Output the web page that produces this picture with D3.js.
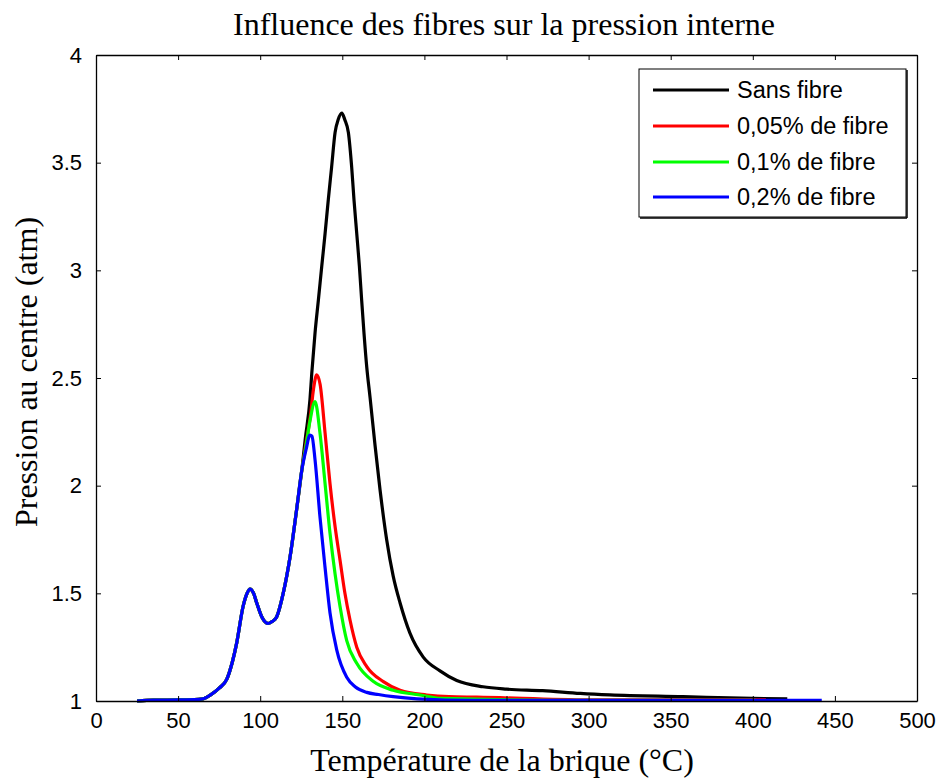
<!DOCTYPE html>
<html><head><meta charset="utf-8">
<script src="https://cdn.jsdelivr.net/npm/d3@7"></script>
<style>body{margin:0;background:#fff}svg{display:block}</style>
</head><body>
<script>
// ---- data ----
const xTicks = [0,50,100,150,200,250,300,350,400,450,500];
const yTicks = [1,1.5,2,2.5,3,3.5,4];
const seriesNames = ["Sans fibre","0,05% de fibre","0,1% de fibre","0,2% de fibre"];
const seriesColors = ["#000000","#ff0000","#00ff00","#0000ff"];

// common rising part (x, y)
const riseX = [25,35,50,60,65,70,75,79.6,83,85.7,89.6,92,93.8,96,97.9,101,104.9,107.5,110,114,118.2,122.2,125.3];
const riseY = [1.0,1.004,1.005,1.006,1.01,1.03,1.06,1.10,1.18,1.27,1.44,1.50,1.52,1.50,1.455,1.39,1.36,1.37,1.39,1.50,1.67,1.89,2.07];

const blackX = [127.5,130.3,131.4,133.4,135.4,137.5,139.5,141.5,143.5,145.6,147.5,149.7,151.5,153.7,155.7,157.1,158.8,160.4,161.8,163.2,164.9,166.9,169.9,173,177,181,185.2,191.2,199.3,209.5,219.7,235.7,250,272,295,313,357.5,400,421];
const blackY = [2.22,2.40,2.52,2.71,2.86,3.02,3.17,3.33,3.48,3.64,3.70,3.73,3.70,3.64,3.48,3.33,3.17,3.02,2.86,2.71,2.55,2.41,2.19,1.98,1.75,1.58,1.455,1.315,1.204,1.14,1.095,1.066,1.055,1.048,1.035,1.028,1.02,1.012,1.01];

const redX = [128,130.5,132.5,134.4,136.5,139.5,142.5,145.6,148.6,151.6,154.7,158.8,164.9,175,185.2,201.4,215,232,300,408];
const redY = [2.2,2.32,2.45,2.515,2.47,2.245,2.01,1.81,1.655,1.50,1.376,1.25,1.16,1.09,1.05,1.028,1.02,1.018,1.005,1.005];

const greenX = [128,130.3,133.4,136.4,139.5,142.5,145.6,148.6,152.7,158.8,169,181,197.3,210,300,402];
const greenY = [2.19,2.3,2.39,2.245,2.01,1.78,1.59,1.44,1.28,1.175,1.09,1.05,1.028,1.012,1.003,1.003];

const blueX = [128,130.3,131.5,133.4,136.4,139.5,142.5,146.6,152.7,158,164.9,172,181,195.5,230,442];
const blueY = [2.17,2.235,2.23,2.12,1.855,1.62,1.41,1.237,1.11,1.065,1.04,1.03,1.02,1.01,1.003,1.003];

// ---- layout ----
const W = 942, H = 779;
const L = 96, R = 917, T = 55, B = 701;
const svg = d3.select("body").append("svg").attr("width", W).attr("height", H);
const x = d3.scaleLinear().domain([0,500]).range([L,R]);
const y = d3.scaleLinear().domain([1,4]).range([B,T]);

// series
const allX = [riseX.concat(blackX), riseX.concat(redX), riseX.concat(greenX), riseX.concat(blueX)];
const allY = [riseY.concat(blackY), riseY.concat(redY), riseY.concat(greenY), riseY.concat(blueY)];
const line = d3.line().x(d => x(d[0])).y(d => y(d[1])).curve(d3.curveMonotoneX);
const plot = svg.append("g");
for (let i = 0; i < 4; i++) {
  const pts = allX[i].map((v, k) => [v, allY[i][k]]);
  plot.append("path").attr("d", line(pts)).attr("fill","none")
    .attr("stroke", seriesColors[i]).attr("stroke-width", 3.2).attr("stroke-linejoin","round");
}

// axes
const tickFont = "'Liberation Sans', Arial, sans-serif";
const xb = svg.append("g").attr("transform", `translate(0,${B})`)
  .call(d3.axisBottom(x).tickValues(xTicks).tickSizeInner(-5).tickSizeOuter(0).tickPadding(11).tickFormat(d3.format("d")));
const xt = svg.append("g").attr("transform", `translate(0,${T})`)
  .call(d3.axisTop(x).tickValues(xTicks).tickSizeInner(-5).tickSizeOuter(0).tickFormat(""));
const yl = svg.append("g").attr("transform", `translate(${L},0)`)
  .call(d3.axisLeft(y).tickValues(yTicks).tickSizeInner(-5).tickSizeOuter(0).tickPadding(14).tickFormat(d => String(d)));
const yr = svg.append("g").attr("transform", `translate(${R},0)`)
  .call(d3.axisRight(y).tickValues(yTicks).tickSizeInner(-5).tickSizeOuter(0).tickFormat(""));
[xb,xt,yl,yr].forEach(g => {
  g.selectAll("path.domain").attr("stroke","#000").attr("stroke-width",1.3);
  g.selectAll(".tick line").attr("stroke","#000").attr("stroke-width",1);
  g.selectAll("text").attr("font-family", tickFont).attr("font-size", 22).attr("fill","#000");
});

// titles
const serif = "'Liberation Serif', 'Times New Roman', serif";
svg.append("text").attr("x", 504).attr("y", 35).attr("text-anchor","middle")
  .attr("font-family", serif).attr("font-size", 32).text("Influence des fibres sur la pression interne");
svg.append("text").attr("x", 502).attr("y", 771).attr("text-anchor","middle")
  .attr("font-family", serif).attr("font-size", 32).text("Température de la brique (°C)");
svg.append("text").attr("transform", `translate(37,${372}) rotate(-90)`).attr("text-anchor","middle")
  .attr("font-family", serif).attr("font-size", 32).text("Pression au centre (atm)");

// legend
const lg = svg.append("g");
const lx0 = 639, ly0 = 69, lx1 = 906, ly1 = 217;
lg.append("rect").attr("x", lx0).attr("y", ly0).attr("width", lx1-lx0).attr("height", ly1-ly0)
  .attr("fill","#fff").attr("stroke","#000").attr("stroke-width",1);
lg.append("line").attr("x1", lx1+1).attr("x2", lx1+1).attr("y1", ly0+1).attr("y2", ly1+1).attr("stroke","#000").attr("stroke-width",1.5);
lg.append("line").attr("x1", lx0+1).attr("x2", lx1+1).attr("y1", ly1+1).attr("y2", ly1+1).attr("stroke","#000").attr("stroke-width",1.5);
const rowY = [90, 126, 162, 197];
seriesNames.forEach((n, i) => {
  lg.append("line").attr("x1", 653).attr("x2", 729).attr("y1", rowY[i]).attr("y2", rowY[i])
    .attr("stroke", seriesColors[i]).attr("stroke-width", 3);
  lg.append("text").attr("x", 737).attr("y", rowY[i] + 8).attr("font-family", tickFont)
    .attr("font-size", 23.5).text(n);
});
</script>
</body></html>
